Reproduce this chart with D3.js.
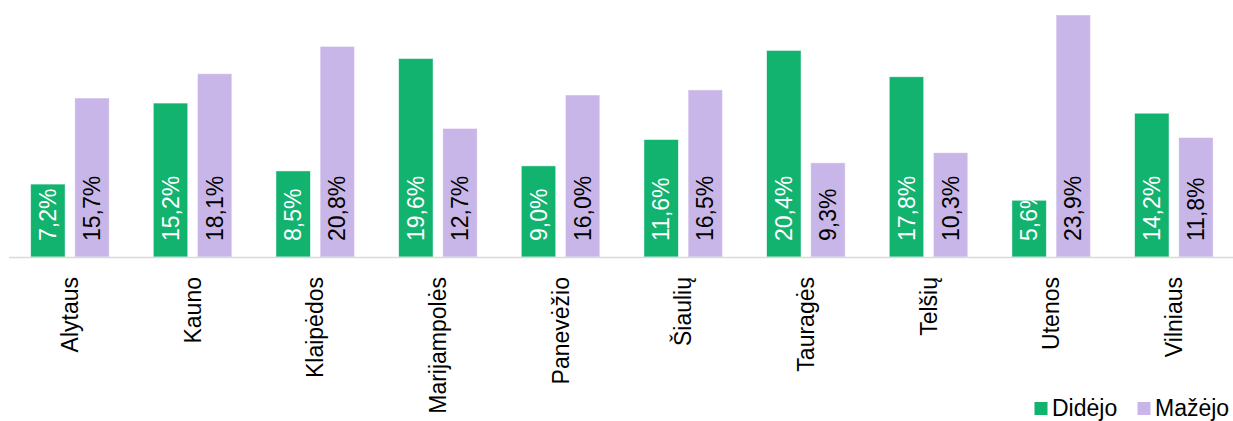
<!DOCTYPE html>
<html>
<head>
<meta charset="utf-8">
<script src="https://cdn.jsdelivr.net/npm/d3@7"></script>
<style>
  html, body { margin: 0; padding: 0; background: #fff; }
  svg { display: block; font-family: "Liberation Sans", Arial, sans-serif; }
</style>
</head>
<body>
<svg id="chart" width="1233" height="421"></svg>
<script>
// Regions (apskritys)
const regions = ["Alytaus", "Kauno", "Klaipėdos", "Marijampolės", "Panevėžio",
                 "Šiaulių", "Tauragės", "Telšių", "Utenos", "Vilniaus"];
// Share (%) that increased
const increased = [7.2, 15.2, 8.5, 19.6, 9.0, 11.6, 20.4, 17.8, 5.6, 14.2];
// Share (%) that decreased
const decreased = [15.7, 18.1, 20.8, 12.7, 16.0, 16.5, 9.3, 10.3, 23.9, 11.8];
const seriesNames = ["Didėjo", "Mažėjo"];
const seriesColors = ["#12b26f", "#c9b6e8"];
const labelColors = ["#ffffff", "#000000"];

const svg = d3.select("#chart");
const baseY = 257;

const x0 = d3.scaleBand().domain(regions).range([8.6, 1235.2]).paddingInner(0).paddingOuter(0);
const x1 = d3.scaleBand().domain([0, 1]).range([0, x0.bandwidth()]).paddingInner(0.22).paddingOuter(0.5);
const y = d3.scaleLinear().domain([0, 23.9]).range([baseY, 15]);

const fmt = v => d3.format(".1f")(v).replace(".", ",") + "%";

const rows = regions.map((r, i) => ({ region: r, i, vals: [increased[i], decreased[i]] }));

const defs = svg.append("defs");

const groups = svg.append("g").selectAll("g")
  .data(rows).join("g")
  .attr("transform", d => `translate(${x0(d.region)},0)`);

const bars = groups.selectAll("g.bar")
  .data(d => d.vals.map((v, s) => ({ v, s, i: d.i })))
  .join("g").attr("class", "bar");

bars.append("rect")
  .attr("x", d => x1(d.s))
  .attr("y", d => y(d.v))
  .attr("width", x1.bandwidth())
  .attr("height", d => y(0) - y(d.v))
  .attr("fill", d => seriesColors[d.s])
  .attr("stroke", "#ffffff")
  .attr("stroke-opacity", 0.6)
  .attr("stroke-width", 0.8);

// clip each value label to its own bar
bars.each(function(d) {
  const id = `clip-${d.i}-${d.s}`;
  defs.append("clipPath").attr("id", id)
    .append("rect")
    .attr("x", x0(regions[d.i]) + x1(d.s))
    .attr("y", y(d.v))
    .attr("width", x1.bandwidth())
    .attr("height", y(0) - y(d.v));
});

groups.selectAll("g.lbl")
  .data(d => d.vals.map((v, s) => ({ v, s, i: d.i })))
  .join("g").attr("class", "lbl")
  .attr("transform", d => `translate(${-x0(regions[d.i])},0)`)
  .attr("clip-path", d => `url(#clip-${d.i}-${d.s})`)
  .append("text")
  .attr("transform", d => `translate(${x0(regions[d.i]) + x1(d.s) + x1.bandwidth() / 2},${baseY - 16}) rotate(-90)`)
  .attr("dy", "0.35em")
  .attr("text-anchor", "start")
  .attr("font-size", 23)
  .attr("fill", d => labelColors[d.s])
  .text(d => fmt(d.v));

// baseline axis
const xAxis = d3.axisBottom(x0).tickSize(0).tickPadding(0);
const ax = svg.append("g").attr("transform", `translate(0,${baseY})`).call(xAxis);
ax.select(".domain").attr("stroke", "#d9d9d9").attr("stroke-width", 1.5);
ax.selectAll(".tick text")
  .attr("font-size", 23)
  .attr("font-family", "Liberation Sans, Arial, sans-serif")
  .attr("fill", "#000")
  .attr("text-anchor", "end")
  .attr("dy", "0.35em")
  .attr("y", 0)
  .attr("transform", "translate(0,20) rotate(-90)");

// legend
const legend = svg.append("g");
const legendX = [1034.5, 1137.5];
seriesNames.forEach((name, s) => {
  const g = legend.append("g").attr("transform", `translate(${legendX[s]},402)`);
  g.append("rect").attr("width", 13).attr("height", 13).attr("fill", seriesColors[s]);
  g.append("text").attr("x", 17.5).attr("y", 14).attr("font-size", 23).attr("fill", "#000").text(name);
});
</script>
</body>
</html>
